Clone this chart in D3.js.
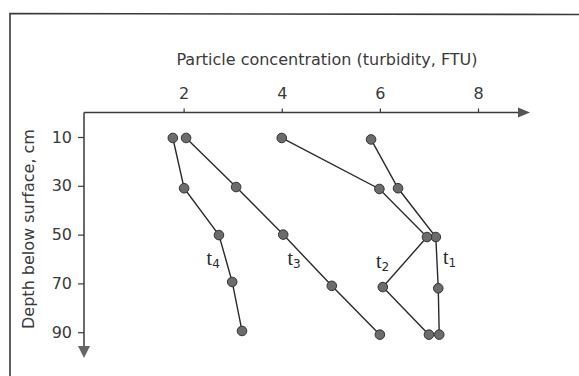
<!DOCTYPE html>
<html>
<head>
<meta charset="utf-8">
<script src="https://cdn.jsdelivr.net/npm/d3@7"></script>
<style>
  body { margin: 0; background: #fff; }
  svg { display: block; }
</style>
</head>
<body>
<div id="chart"></div>
<script>
// values
const seriesNames = ["1", "2", "3", "4"];
const t1Depth = [11, 31, 51, 72, 91];
const t1Conc = [5.82, 6.37, 7.14, 7.19, 7.21];
const t2Depth = [10.4, 31.3, 51, 71.5, 91];
const t2Conc = [4.0, 5.99, 6.96, 6.06, 7.0];
const t3Depth = [10.4, 30.5, 50, 71, 91];
const t3Conc = [2.05, 3.07, 4.03, 5.02, 6.0];
const t4Depth = [10.4, 31, 50.2, 69.4, 89.5];
const t4Conc = [1.78, 2.01, 2.72, 2.99, 3.19];
const xTicks = [2, 4, 6, 8];
const yTicks = [10, 30, 50, 70, 90];

const width = 579;
const height = 376;
const ink = "#3a3a3a";
const font = "DejaVu Sans, sans-serif";

const series = [
  {name: seriesNames[0], depth: t1Depth, conc: t1Conc},
  {name: seriesNames[1], depth: t2Depth, conc: t2Conc},
  {name: seriesNames[2], depth: t3Depth, conc: t3Conc},
  {name: seriesNames[3], depth: t4Depth, conc: t4Conc}
].map(s => ({name: s.name, points: s.depth.map((d, i) => ({d: d, c: s.conc[i]}))}));

// label offsets from the middle of the 3rd/4th point segment
const labelOffsets = [[6, 1], [-29, 6], [-20, 5], [-19, 6]];

const x = d3.scaleLinear().domain([0, 8]).range([85.5, 478]);
const y = d3.scaleLinear().domain([0, 100]).range([112.6, 356.6]);

const axisX0 = 84;     // where the depth axis stands
const axisY0 = 112.5;  // where the concentration axis runs
const xAxisEnd = 530;
const yAxisEnd = 358;

const svg = d3.create("svg")
    .attr("width", width)
    .attr("height", height)
    .attr("viewBox", [0, 0, width, height]);

svg.append("rect")
    .attr("width", width)
    .attr("height", height)
    .attr("fill", "#fff");

// frame (top and left edges only)
svg.append("path")
    .attr("d", `M${width},14.5 L10,13.5 L10,${height}`)
    .attr("fill", "none")
    .attr("stroke", ink)
    .attr("stroke-width", 1.6);

// titles
svg.append("text")
    .attr("x", 327)
    .attr("y", 65)
    .attr("text-anchor", "middle")
    .attr("font-family", font)
    .attr("font-size", 16)
    .attr("fill", ink)
    .text("Particle concentration (turbidity, FTU)");

svg.append("text")
    .attr("transform", "translate(34,229) rotate(-90)")
    .attr("text-anchor", "middle")
    .attr("font-family", font)
    .attr("font-size", 16)
    .attr("fill", ink)
    .text("Depth below surface, cm");

// axes
const gx = svg.append("g")
    .attr("transform", `translate(0,${axisY0})`)
    .call(d3.axisTop(x).tickValues(xTicks).tickSize(4).tickPadding(10));

const gy = svg.append("g")
    .attr("transform", `translate(${axisX0},0)`)
    .call(d3.axisLeft(y).tickValues(yTicks).tickSize(6).tickPadding(6));

[gx, gy].forEach(g => {
  g.select(".domain").remove();
  g.attr("font-family", font).attr("font-size", 16);
  g.selectAll("line").attr("stroke", ink).attr("stroke-width", 1.2);
  g.selectAll("text").attr("fill", ink);
});

svg.append("path")
    .attr("d", `M${axisX0},${axisY0} H${xAxisEnd - 10} M${axisX0},${axisY0} V${yAxisEnd - 10}`)
    .attr("fill", "none")
    .attr("stroke", ink)
    .attr("stroke-width", 1.5);

svg.append("path")
    .attr("d", `M${xAxisEnd},${axisY0} L${xAxisEnd - 12},${axisY0 - 5} L${xAxisEnd - 12},${axisY0 + 5} Z`)
    .attr("fill", "#555");

svg.append("path")
    .attr("d", `M${axisX0},${yAxisEnd} L${axisX0 - 6},${yAxisEnd - 12} L${axisX0 + 6},${yAxisEnd - 12} Z`)
    .attr("fill", "#666");

// series
const line = d3.line()
    .x(p => x(p.c))
    .y(p => y(p.d));

const sg = svg.append("g")
  .selectAll("g")
  .data(series)
  .join("g");

sg.append("path")
    .attr("d", s => line(s.points))
    .attr("fill", "none")
    .attr("stroke", "#2a2a2a")
    .attr("stroke-width", 1.4);

sg.selectAll("circle")
  .data(s => s.points)
  .join("circle")
    .attr("cx", p => x(p.c))
    .attr("cy", p => y(p.d))
    .attr("r", 4.8)
    .attr("fill", "#6c6c6c")
    .attr("stroke", "#333")
    .attr("stroke-width", 1);

const label = sg.append("text")
    .attr("x", (s, i) => (x(s.points[2].c) + x(s.points[3].c)) / 2 + labelOffsets[i][0])
    .attr("y", (s, i) => (y(s.points[2].d) + y(s.points[3].d)) / 2 + labelOffsets[i][1])
    .attr("font-family", "Liberation Serif, serif")
    .attr("font-size", 20)
    .attr("fill", "#2a2a2a");

label.append("tspan").text("t");
label.append("tspan")
    .attr("dy", 3)
    .attr("font-size", 12)
    .attr("font-family", font)
    .text(s => s.name);

document.getElementById("chart").appendChild(svg.node());
</script>
</body>
</html>
